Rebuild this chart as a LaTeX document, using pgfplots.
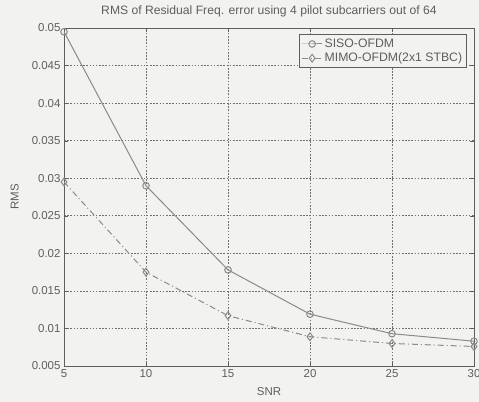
\documentclass[border=0pt]{standalone}
\usepackage{pgfplots}
\pgfplotsset{compat=1.18}
\usepackage{fontspec}
\setmainfont{Liberation Sans}
\usetikzlibrary{backgrounds}
\definecolor{ink}{HTML}{5E5E5E}
\definecolor{gridc}{HTML}{707070}
\definecolor{curve}{HTML}{8A8A8A}
\definecolor{paper}{HTML}{F2F2F0}

\begin{document}
\begin{tikzpicture}
\begin{axis}[
  name=ax,
  scale only axis,
  width=410bp, height=338bp,
  xmin=5, xmax=30, ymin=0.005, ymax=0.05,
  xtick={5,10,...,30},
  ytick={0.005,0.01,...,0.05},
  scaled y ticks=false,
  /pgf/number format/.cd, fixed, precision=3, assume math mode=true,
  /pgfplots/.cd,
  grid=major,
  grid style={gridc, line width=0.7pt, dash pattern=on 1.6pt off 1.6pt},
  axis line style={ink, line width=0.9pt},
  tick style={ink},
  tick align=inside,
  major tick length=4pt,
  ticklabel style={font=\fontsize{11.5}{13}\selectfont, text=ink},
  label style={font=\fontsize{11.5}{13}\selectfont, text=ink},
  title style={font=\fontsize{12.2}{14}\selectfont, text=ink,
    at={(axis description cs:0.5,1.013)}, anchor=south, inner sep=0pt},
  title={RMS of Residual Freq. error using 4 pilot subcarriers out of 64},
  xlabel={SNR},
  ylabel={RMS},
  xlabel style={at={(axis description cs:0.5,-0.077)}, anchor=center},
  ylabel style={at={(axis description cs:-0.12,0.5)}, anchor=center},
  legend style={at={(0.983,0.982)}, anchor=north east, draw=ink,
    font=\fontsize{12.3}{14}\selectfont, text=ink, fill=paper,
    row sep=0pt, inner sep=2.5pt, line width=0.8pt},
  legend cell align=left,
  legend image code/.code={
    \draw[mark repeat=2, mark phase=2]
      plot coordinates {(0bp,0bp) (10bp,0bp) (20bp,0bp)};},
]
\addplot[curve, line width=1pt, mark=o, mark size=3.3pt,
  mark options={solid}] coordinates {
  (5,0.0495) (10,0.0290) (15,0.0178) (20,0.0119) (25,0.0093) (30,0.0083)
};
\addlegendentry{SISO-OFDM}
\addplot[curve, line width=1pt, dash pattern=on 6pt off 3pt on 1pt off 3pt,
  mark=diamond, mark size=3.9pt, mark options={solid}] coordinates {
  (5,0.0295) (10,0.0175) (15,0.0117) (20,0.0089) (25,0.0080) (30,0.0076)
};
\addlegendentry{MIMO-OFDM(2x1 STBC)}
\end{axis}
\pgfresetboundingbox
\begin{scope}[on background layer]
  \fill[paper] ([shift={(-64bp,-36bp)}]ax.south west) rectangle
    ([shift={(5bp,28bp)}]ax.north east);
\end{scope}
\useasboundingbox ([shift={(-64bp,-36bp)}]ax.south west) rectangle
    ([shift={(5bp,28bp)}]ax.north east);
\end{tikzpicture}
\end{document}
